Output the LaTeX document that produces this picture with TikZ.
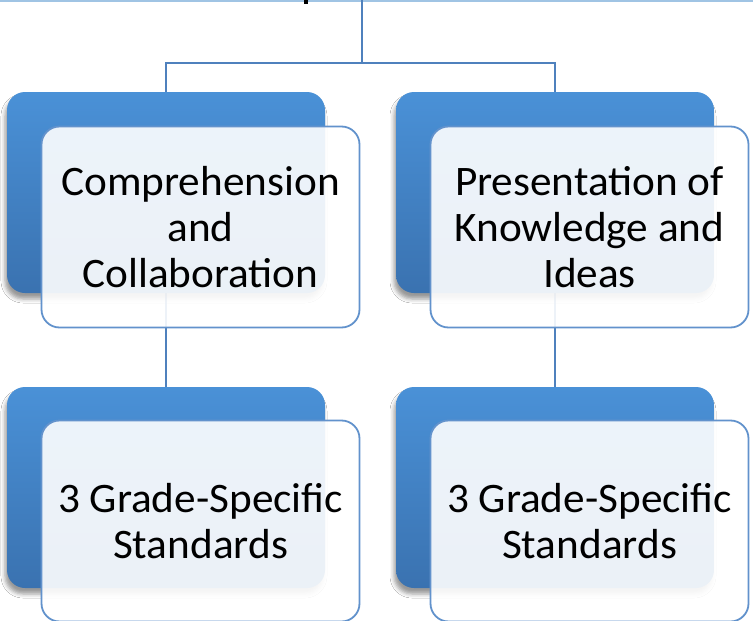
\documentclass[tikz,border=0pt]{standalone}
\usepackage{fontspec}
\setmainfont{Carlito}[FakeStretch=1.03]
\usetikzlibrary{shadows.blur}
\definecolor{bluetop}{RGB}{74,145,215}
\definecolor{bluebot}{RGB}{58,114,176}
\definecolor{edgeblue}{RGB}{98,146,204}
\definecolor{connblue}{RGB}{79,129,189}
\definecolor{toplinec}{RGB}{160,196,228}
\tikzset{
  backbox/.style={rectangle, rounded corners=18pt, minimum width=318pt, minimum height=201pt,
    inner sep=0pt, top color=bluetop, bottom color=bluebot, draw=none,
    blur shadow={shadow xshift=-2pt, shadow yshift=-6pt, shadow blur radius=4pt, shadow opacity=40}},
  frontbox/.style={rectangle, rounded corners=18pt, minimum width=318pt, minimum height=201pt,
    inner sep=0pt, fill=white, fill opacity=0.9, text opacity=1, draw=edgeblue, line width=1.8pt,
    align=center, font=\fontsize{42}{46}\selectfont},
  conn/.style={draw=connblue, line width=2.2pt}
}
\begin{document}
\begin{tikzpicture}[x=1pt,y=-1pt]
\useasboundingbox (0,0) rectangle (753,621);
\fill[white] (0,0) rectangle (753,621);
% bottom edge of the cut-off top box
\coordinate (tl) at (0,0.8);
\coordinate (tr) at (753,0.8);
\draw[toplinec, line width=2pt] (tl) -- (tr);
\fill[black] (304,0) rectangle (308,3.5);
% connector anchor points
\coordinate (topc) at (362,0);
\coordinate (split) at (362,63);
\coordinate (b1top) at (166,92);
\coordinate (b2top) at (555,92);
\coordinate (b1bot) at (166,293);
\coordinate (b2bot) at (555,293);
\coordinate (b3top) at (166,387);
\coordinate (b4top) at (555,387);
% connectors (behind the boxes)
\draw[conn] (topc) -- (split);
\draw[conn] (split) -| (b1top);
\draw[conn] (split) -| (b2top);
\draw[conn] (b1bot) -- (b3top);
\draw[conn] (b2bot) -- (b4top);
% back boxes
\node[backbox] (b1) at (166,192.5) {};
\node[backbox] (b2) at (555,192.5) {};
\node[backbox] (b3) at (166,487.5) {};
\node[backbox] (b4) at (555,487.5) {};
% front boxes
\node[frontbox] (f1) at (200.5,227) {Comprehension\\and\\Collaboration};
\node[frontbox] (f2) at (589.5,227) {Presentation of\\Knowledge and\\Ideas};
\node[frontbox] (f3) at (200.5,521) {3 Grade-Specific\\Standards};
\node[frontbox] (f4) at (589.5,521) {3 Grade-Specific\\Standards};
\end{tikzpicture}
\end{document}
